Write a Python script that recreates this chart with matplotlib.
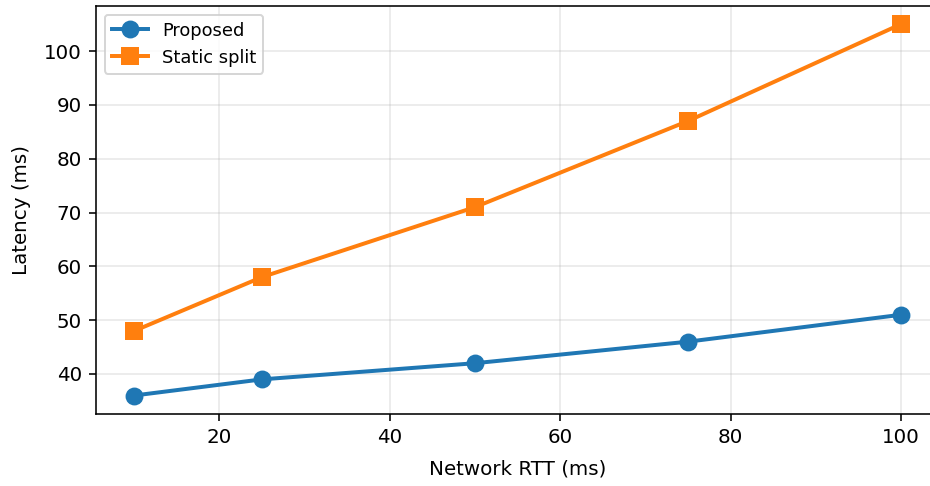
import matplotlib
matplotlib.use("Agg")
import matplotlib.pyplot as plt

rtt = [10, 25, 50, 75, 100]
proposed = [36, 39, 42, 46, 51]
static_split = [48, 58, 71, 87, 105]

DPI = 143
fig = plt.figure(figsize=(930 / DPI, 486 / DPI), dpi=DPI)
ax = fig.add_axes([0.103, 0.148, 0.907, 0.8405])
ax.plot(rtt, proposed, marker="o", color="#1f77b4", lw=2, markersize=8, label="Proposed")
ax.plot(rtt, static_split, marker="s", color="#ff7f0e", lw=2, markersize=8, label="Static split")
ax.set_xlabel("Network RTT (ms)", labelpad=6.5)
ax.set_ylabel("Latency (ms)", labelpad=6.5)
ax.grid(True, alpha=0.3)
ax.spines["right"].set_visible(False)
ax.legend(loc="upper left", fontsize=9)
fig.savefig("out.png", dpi=DPI)
